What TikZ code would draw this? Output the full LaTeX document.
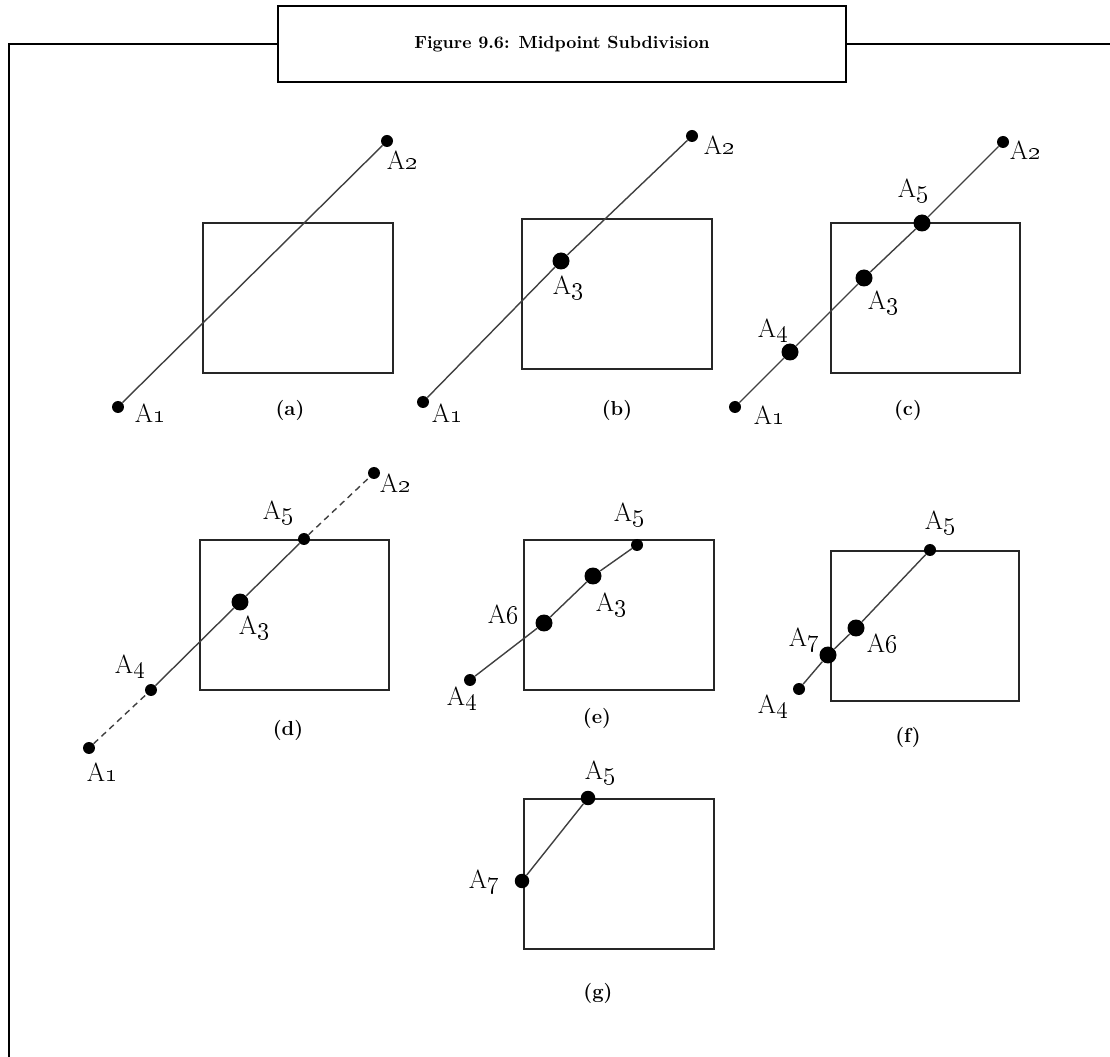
\documentclass[tikz,border=0pt]{standalone}
\usepackage{tikz}
\tikzset{pt/.style={circle,fill=black,inner sep=0pt,minimum size=0.24cm},bigpt/.style={pt,minimum size=0.34cm},midpt/.style={pt,minimum size=0.29cm},seg/.style={draw=black!75,line width=0.8pt},dseg/.style={seg,dash pattern=on 3.5pt off 2.6pt},win/.style={draw=black!85,line width=1pt},lab/.style={font=\fontsize{15}{18}\selectfont,inner sep=0pt},caplab/.style={font=\fontsize{11.5}{14}\selectfont\bfseries,inner sep=0pt},frame/.style={draw=black,line width=1.5pt}}
\newcommand{\An}[1]{A\oldstylenums{#1}}
\begin{document}
\begin{tikzpicture}[x=0.02cm,y=-0.02cm]
\useasboundingbox (0,0) rectangle (1110,1057);
% title and frame
\node[frame,minimum width=11.36cm,minimum height=1.52cm,font=\bfseries] (title) at (562,44) {\raisebox{-0.6ex}{Figure 9.6: Midpoint Subdivision}};
\draw[frame] (title.west) -- (9,44) -- (9,1057);
\draw[frame] (title.east) -- (1110,44);
% (a)
\draw[win] (203,223) rectangle (393,373);
\node[pt] (a1) at (118,407) {};
\node[pt] (a2) at (387,141) {};
\draw[seg] (a1) -- (a2);
\node[lab] at (150,413) {\An1};
\node[lab] at (402,160) {\An2};
\node[caplab] at (290,410) {(a)};
% (b)
\draw[win] (522,219) rectangle (712,369);
\node[pt] (b1) at (423,402) {};
\node[pt] (b2) at (692,136) {};
\node[bigpt] (b3) at (561,261) {};
\draw[seg] (b1) -- (b3) -- (b2);
\node[lab] at (447,413) {\An1};
\node[lab] at (719,145) {\An2};
\node[lab] at (568,288) {\An3};
\node[caplab] at (617,410) {(b)};
% (c)
\draw[win] (831,223) rectangle (1020,373);
\node[pt] (c1) at (735,407) {};
\node[pt] (c2) at (1003,142) {};
\node[bigpt] (c3) at (864,278) {};
\node[bigpt] (c4) at (790,352) {};
\node[bigpt] (c5) at (922,223) {};
\draw[seg] (c1) -- (c4) -- (c3) -- (c5) -- (c2);
\node[lab] at (769,415) {\An1};
\node[lab] at (1025,150) {\An2};
\node[lab] at (883,303) {\An3};
\node[lab] at (773,331) {\An4};
\node[lab] at (913,191) {\An5};
\node[caplab] at (908,410) {(c)};
% (d)
\draw[win] (200,540) rectangle (389,690);
\node[pt] (d1) at (89,748) {};
\node[pt] (d2) at (374,473) {};
\node[bigpt] (d3) at (240,602) {};
\node[pt] (d4) at (151,690) {};
\node[pt] (d5) at (304,539) {};
\draw[dseg] (d1) -- (d4);
\draw[seg] (d4) -- (d3) -- (d5);
\draw[dseg] (d5) -- (d2);
\node[lab] at (102,772) {\An1};
\node[lab] at (395,483) {\An2};
\node[lab] at (254,628) {\An3};
\node[lab] at (130,667) {\An4};
\node[lab] at (278,513) {\An5};
\node[caplab] at (288,730) {(d)};
% (e)
\draw[win] (524,540) rectangle (714,690);
\node[bigpt] (e3) at (593,576) {};
\node[pt] (e4) at (470,680) {};
\node[pt] (e5) at (637,545) {};
\node[bigpt] (e6) at (544,623) {};
\draw[seg] (e4) -- (e6) -- (e3) -- (e5);
\node[lab] at (611,605) {\An3};
\node[lab] at (462,699) {\An4};
\node[lab] at (629,515) {\An5};
\node[lab] at (503,614) {\An6};
\node[caplab] at (597,718) {(e)};
% (f)
\draw[win] (831,551) rectangle (1019,701);
\node[pt] (f4) at (799,689) {};
\node[pt] (f5) at (930,550) {};
\node[bigpt] (f6) at (856,628) {};
\node[bigpt] (f7) at (828,655) {};
\draw[seg] (f4) -- (f7) -- (f6) -- (f5);
\node[lab] at (773,707) {\An4};
\node[lab] at (940,523) {\An5};
\node[lab] at (882,643) {\An6};
\node[lab] at (804,640) {\An7};
\node[caplab] at (908,737) {(f)};
% (g)
\draw[win] (524,799) rectangle (714,949);
\node[midpt] (g5) at (588,798) {};
\node[midpt] (g7) at (522,881) {};
\draw[seg] (g7) -- (g5);
\node[lab] at (600,773) {\An5};
\node[lab] at (484,882) {\An7};
\node[caplab] at (598,993) {(g)};
\end{tikzpicture}
\end{document}
